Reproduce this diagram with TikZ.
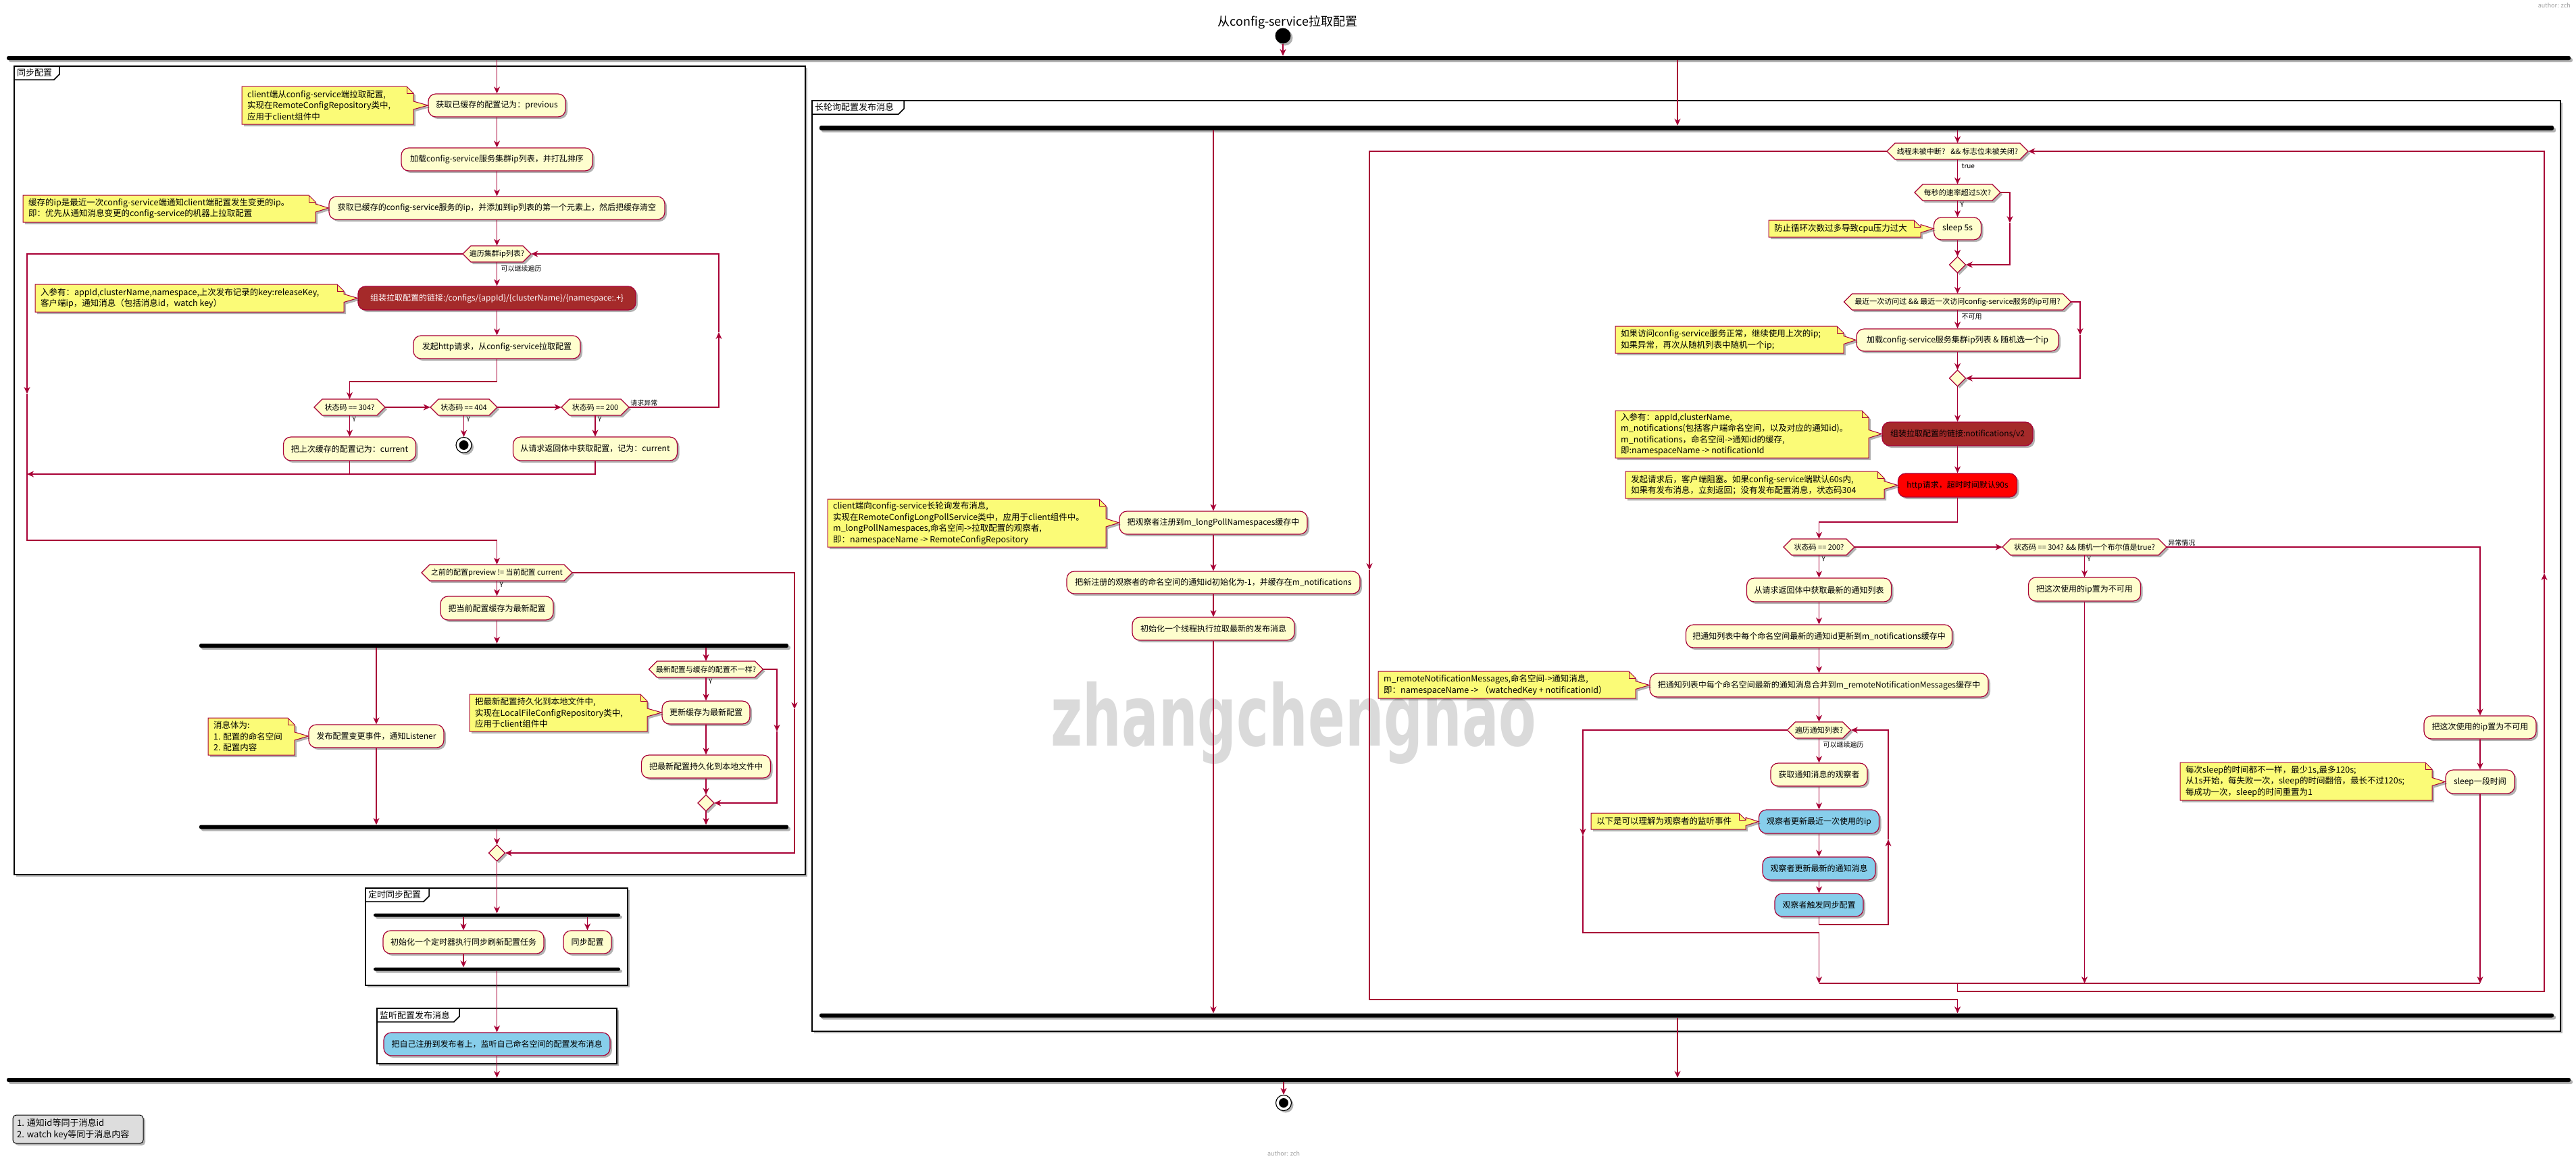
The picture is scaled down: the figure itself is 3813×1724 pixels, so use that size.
\documentclass[tikz,border=0pt]{standalone}
\usepackage{fontspec}
\usepackage{graphicx}
\setmainfont{Noto Sans CJK SC}
\newfontfamily\wmfont{DejaVu Sans}[BoldFont={DejaVu Sans Bold}]
\usetikzlibrary{arrows.meta,shadows,calc}
\definecolor{pborder}{HTML}{A80036}
\definecolor{pbg}{HTML}{FEFECE}
\definecolor{pnote}{HTML}{FBFB77}
\definecolor{pbrown}{HTML}{A52A2A}
\definecolor{pblue}{HTML}{87CEEB}
\definecolor{pred}{HTML}{FF0000}
\definecolor{plegend}{HTML}{DDDDDD}
\definecolor{wmgray}{HTML}{DADADA}
\definecolor{authgray}{HTML}{A0A0A0}
\tikzset{
 shd/.style={drop shadow={shadow xshift=3pt,shadow yshift=-3pt,opacity=0.3,fill=black}},
 act/.style={rectangle, rounded corners=11pt, draw=pborder, fill=pbg, line width=1.2pt, inner sep=0pt, font=\fontsize{12}{14}\selectfont, shd},
 hexs/.style={draw=pborder, fill=pbg, line width=1.2pt, shd},
 hext/.style={inner sep=0pt, font=\fontsize{11}{13}\selectfont, minimum height=24pt},
 notes/.style={draw=pborder, fill=pnote, line width=1pt, shd},
 notet/.style={inner sep=0pt, align=left, anchor=west, font=\fontsize{12.5}{16.5}\selectfont},
 arr/.style={draw=pborder, line width=1.2pt, -{Stealth[length=10pt,width=9pt,inset=3pt]}},
 ln/.style={draw=pborder, line width=1.2pt},
 bar/.style={rectangle, rounded corners=2.5pt, fill=black, inner sep=0pt, minimum height=6pt, shd},
 part/.style={draw=black, line width=1.8pt, fill=white, shd},
 tabt/.style={inner sep=0pt, font=\fontsize{13}{15}\selectfont},
 lbl/.style={font=\fontsize{10}{12}\selectfont, inner sep=1pt},
}
% name, cx, cy, half width, text
\newcommand\umlhex[5]{%
 \path[hexs] (#2-#4,#3) -- (#2-#4+12,#3-12) -- (#2+#4-12,#3-12) -- (#2+#4,#3) -- (#2+#4-12,#3+12) -- (#2-#4+12,#3+12) -- cycle;
 \node[hext, minimum width=2*#4] (#1) at (#2,#3) {#5};}
% name, cx, cy
\newcommand\umlmerge[3]{%
 \path[hexs] (#2-12,#3) -- (#2,#3-12) -- (#2+12,#3) -- (#2,#3+12) -- cycle;
 \node[inner sep=0pt, minimum size=24pt] (#1) at (#2,#3) {};}
% name, x1, y1, x2, y2, target, target y, text
\newcommand\umlnote[8]{%
 \path[notes] (#2,#3) -- (#4-10,#3) -- (#4,#3+10) -- (#4,#7-6) -- (#6.west) -- (#4,#7+6) -- (#4,#5) -- (#2,#5) -- cycle;
 \draw[pborder, line width=1pt] (#4-10,#3) -- (#4-10,#3+10) -- (#4,#3+10);
 \node[notet] (#1) at (#2+8,{(#3+#5)/2}) {#8};}
% name, x1, y1, x2, y2, tab width, label
\newcommand\umlpart[7]{%
 \path[part] (#2,#3) rectangle (#4,#5);
 \path[draw=black, line width=1.5pt, fill=white] (#2,#3) -- (#2+#6,#3) -- (#2+#6,#3+12) -- (#2+#6-8,#3+20) -- (#2,#3+20) -- cycle;
 \node[tabt, anchor=west] (#1) at (#2+4,#3+10) {#7};}

\begin{document}
\begin{tikzpicture}[x=1pt,y=-1pt]
\useasboundingbox (0,0) rectangle (3813,1724);
\fill[white] (0,0) rectangle (3813,1724);

% ---------- partitions ----------
\umlpart{pt1}{21}{98}{1192}{1295}{67}{同步配置}
\umlpart{pt2}{1202}{149}{3790}{1527}{136}{长轮询配置发布消息}
\umlpart{pt3}{541}{1315}{929}{1459}{94}{定时同步配置}
\umlpart{pt4}{558}{1493}{913}{1575}{122}{监听配置发布消息}

% ---------- watermark ----------
\node[text=wmgray, inner sep=0pt] (wm) at (1915,1070) {\resizebox*{718pt}{122pt}{\wmfont\bfseries zhangchenghao}};

% ---------- title / author ----------
\node[font=\fontsize{18}{20}\selectfont, inner sep=0pt] (title) at (1906,33) {从config-service拉取配置};
\node[font=\fontsize{9}{10}\selectfont, text=authgray, anchor=north east, inner sep=0pt] (auth1) at (3805,4) {author: zch};
\node[font=\fontsize{9}{10}\selectfont, text=authgray, inner sep=0pt] (auth2) at (1900,1708) {author: zch};

% ---------- start / bars ----------
\node[circle, fill=black, minimum size=23pt, inner sep=0pt, shd] (start) at (1899,53) {};
\node[bar, minimum width=3795pt] (topbar) at (1907.5,86) {};
\node[bar, minimum width=3795pt] (botbar) at (1907.5,1599) {};
\node[bar, minimum width=872pt] (syncfork) at (731,956) {};
\node[bar, minimum width=872pt] (syncjoin) at (731,1224.5) {};
\node[bar, minimum width=365pt, minimum height=5pt] (tfork) at (735.5,1355) {};
\node[bar, minimum width=365pt, minimum height=5pt] (tjoin) at (735.5,1435) {};
\node[bar, minimum width=2567pt, minimum height=7pt] (lpfork) at (2496.5,189.5) {};
\node[bar, minimum width=2567pt] (lpjoin) at (2496.5,1503.5) {};
\node[circle, draw=black, line width=1.2pt, fill=white, minimum size=23pt, inner sep=0pt, shd] (end1) at (1900,1633) {};
\node[circle, fill=black, minimum size=14pt, inner sep=0pt] (end1i) at (end1) {};

% ---------- sync config ----------
\node[act, minimum width=203pt, minimum height=34pt] (a1) at (735.5,156) {获取已缓存的配置记为：previous};
\node[act, minimum width=283pt, minimum height=34pt] (a2) at (735.5,236) {加载config-service服务集群ip列表，并打乱排序};
\node[act, minimum width=497pt, minimum height=34pt] (a3) at (735.5,308) {获取已缓存的config-service服务的ip，并添加到ip列表的第一个元素上，然后把缓存清空};
\umlhex{h1}{735.5}{376}{50.5}{遍历集群ip列表?}
\node[act, fill=pbrown, text=white, minimum width=411pt, minimum height=35pt] (a4) at (735.5,441.5) {组装拉取配置的链接:/configs/\{appId\}/\{clusterName\}/\{namespace:.+\}};
\node[act, minimum width=247pt, minimum height=34pt] (a5) at (735.5,514) {发起http请求，从config-service拉取配置};
\umlhex{h2}{517.5}{603}{52.5}{状态码 == 304?}
\umlhex{h3}{686.5}{603}{49.5}{状态码 == 404}
\umlhex{h4}{881}{603}{50}{状态码 == 200}
\node[act, minimum width=196pt, minimum height=35pt] (a6) at (517.5,664.5) {把上次缓存的配置记为：current};
\node[circle, draw=black, line width=1.2pt, fill=white, minimum size=23pt, inner sep=0pt, shd] (end2) at (686.5,659) {};
\node[circle, fill=black, minimum size=14pt, inner sep=0pt] (end2i) at (end2) {};
\node[act, minimum width=243pt, minimum height=35pt] (a7) at (881,664.5) {从请求返回体中获取配置，记为：current};
\umlhex{h5}{735.5}{848}{111.5}{之前的配置preview != 当前配置 current}
\node[act, minimum width=167pt, minimum height=35pt] (a8) at (735.5,900.5) {把当前配置缓存为最新配置};
\node[act, minimum width=200pt, minimum height=34pt] (a9) at (557,1090) {发布配置变更事件，通知Listener};
\umlhex{h6}{1045}{991}{84.5}{最新配置与缓存的配置不一样?}
\node[act, minimum width=130pt, minimum height=34pt] (a10) at (1045,1055) {更新缓存为最新配置};
\node[act, minimum width=191pt, minimum height=34pt] (a11) at (1045,1135) {把最新配置持久化到本地文件中};
\umlmerge{m2}{1045}{1189}
\umlmerge{m1}{735.5}{1263}
\node[act, minimum width=238pt, minimum height=34pt] (a12) at (686,1395) {初始化一个定时器执行同步刷新配置任务};
\node[act, minimum width=71pt, minimum height=34pt] (a13) at (869.5,1395) {同步配置};
\node[act, fill=pblue, minimum width=335pt, minimum height=34pt] (a14) at (735.5,1546) {把自己注册到发布者上，监听自己命名空间的配置发布消息};

% ---------- long poll ----------
\node[act, minimum width=278pt, minimum height=34pt] (b1) at (1796,774) {把观察者注册到m\_longPollNamespaces缓存中};
\node[act, minimum width=434pt, minimum height=33pt] (b2) at (1796,862.5) {把新注册的观察者的命名空间的通知id初始化为-1，并缓存在m\_notifications};
\node[act, minimum width=240pt, minimum height=34pt] (b3) at (1796,931) {初始化一个线程执行拉取最新的发布消息};

\umlhex{k1}{2897.5}{224}{104.5}{线程未被中断？ \&\& 标志位未被关闭?}
\umlhex{k2}{2897.5}{285}{63.5}{每秒的速率超过5次?}
\node[act, minimum width=70pt, minimum height=33pt] (c1) at (2897.5,338.5) {sleep 5s};
\umlmerge{m3}{2897.5}{392}
\umlhex{k3}{2897.5}{447}{168}{最近一次访问过 \&\& 最近一次访问config-service服务的ip可用?}
\node[act, minimum width=299pt, minimum height=33pt] (c2) at (2897.5,503.5) {加载config-service服务集群ip列表 \& 随机选一个ip};
\umlmerge{m4}{2897.5}{560}
\node[act, fill=pbrown, minimum width=223pt, minimum height=35pt] (c3) at (2897.5,642.5) {组装拉取配置的链接:notifications/v2};
\node[act, fill=pred, minimum width=176pt, minimum height=35pt] (c4) at (2897.5,718.5) {http请求，超时时间默认90s};
\umlhex{k4}{2692.5}{810}{52.5}{状态码 == 200?}
\umlhex{k5}{3085.5}{810}{121.5}{状态码 == 304? \&\& 随机一个布尔值是true?}
\node[act, minimum width=166pt, minimum height=35pt] (d1) at (3085.5,872.5) {把这次使用的ip置为不可用};
\node[act, minimum width=166pt, minimum height=34pt] (d2) at (3671,1077) {把这次使用的ip置为不可用};
\node[act, minimum width=102pt, minimum height=35pt] (d3) at (3671,1157.5) {sleep一段时间};
\node[act, minimum width=214pt, minimum height=35pt] (c5) at (2692.5,873.5) {从请求返回体中获取最新的通知列表};
\node[act, minimum width=394pt, minimum height=34pt] (c6) at (2692.5,942) {把通知列表中每个命名空间最新的通知id更新到m\_notifications缓存中};
\node[act, minimum width=501pt, minimum height=35pt] (c7) at (2692.5,1014.5) {把通知列表中每个命名空间最新的通知消息合并到m\_remoteNotificationMessages缓存中};
\umlhex{k6}{2692.5}{1081}{47}{遍历通知列表?}
\node[act, minimum width=143pt, minimum height=34pt] (c8) at (2692.5,1147) {获取通知消息的观察者};
\node[act, fill=pblue, minimum width=178pt, minimum height=35pt] (c9) at (2692.5,1216.5) {观察者更新最近一次使用的ip};
\node[act, fill=pblue, minimum width=167pt, minimum height=34pt] (c10) at (2692.5,1286) {观察者更新最新的通知消息};
\node[act, fill=pblue, minimum width=131pt, minimum height=34pt] (c11) at (2692.5,1340) {观察者触发同步配置};

% ---------- notes ----------
\umlnote{n1}{358}{128}{612}{184}{a1}{156}{client端从config-service端拉取配置,\\实现在RemoteConfigRepository类中,\\应用于client组件中}
\umlnote{n2}{34}{289}{467}{329}{a3}{308}{缓存的ip是最近一次config-service端通知client端配置发生变更的ip。\\即：优先从通知消息变更的config-service的机器上拉取配置}
\umlnote{n3}{52}{421}{509}{462}{a4}{441.5}{入参有：appId,clusterName,namespace,上次发布记录的key:releaseKey,\\客户端ip，通知消息（包括消息id，watch key）}
\umlnote{n4}{308}{1063}{436}{1118}{a9}{1090}{消息体为:\\1. 配置的命名空间\\2. 配置内容}
\umlnote{n5}{695}{1028}{958}{1083}{a10}{1055}{把最新配置持久化到本地文件中,\\实现在LocalFileConfigRepository类中,\\应用于client组件中}
\umlnote{n6}{1225}{739}{1637}{810}{b1}{774}{client端向config-service长轮询发布消息,\\实现在RemoteConfigLongPollService类中，应用于client组件中。\\m\_longPollNamespaces,命名空间->拉取配置的观察者,\\即：namespaceName -> RemoteConfigRepository}
\umlnote{n7}{2618}{326}{2843}{351}{c1}{338.5}{防止循环次数过多导致cpu压力过大}
\umlnote{n8}{2391}{483}{2729}{523}{c2}{503.5}{如果访问config-service服务正常，继续使用上次的ip;\\如果异常，再次从随机列表中随机一个ip;}
\umlnote{n9}{2391}{608}{2766}{678}{c3}{642.5}{入参有：appId,clusterName,\\m\_notifications(包括客户端命名空间，以及对应的通知id)。\\m\_notifications，命名空间->通知id的缓存,\\即:namespaceName -> notificationId}
\umlnote{n10}{2406}{698}{2789}{738}{c4}{718.5}{发起请求后，客户端阻塞。如果config-service端默认60s内,\\如果有发布消息，立刻返回；没有发布配置消息，状态码304}
\umlnote{n11}{2040}{994}{2421}{1034}{c7}{1014.5}{m\_remoteNotificationMessages,命名空间->通知消息,\\即：namespaceName -> （watchedKey + notificationId）}
\umlnote{n12}{2355}{1204}{2584}{1228}{c9}{1216.5}{以下是可以理解为观察者的监听事件}
\umlnote{n13}{3227}{1129}{3600}{1185}{d3}{1157.5}{每次sleep的时间都不一样，最少1s,最多120s;\\从1s开始，每失败一次，sleep的时间翻倍，最长不过120s;\\每成功一次，sleep的时间重置为1}

% ---------- legend ----------
\node[draw=black, fill=plegend, rounded corners=5pt, line width=1pt, minimum width=193pt, minimum height=42pt, inner sep=0pt, shd] (legend) at (115.5,1672) {};
\node[align=left, anchor=west, inner sep=0pt, font=\fontsize{13}{17}\selectfont] (legendt) at (25,1672) {1. 通知id等同于消息id\\2. watch key等同于消息内容};

% ---------- labels ----------
\node[lbl, anchor=west] (l1) at ([xshift=5pt,yshift=-10pt]h1.south) {可以继续遍历};
\node[lbl, anchor=south west] (l2) at ([xshift=1pt]h4.east) {请求异常};
\node[lbl, anchor=north west] (y1) at ([xshift=3pt,yshift=-1pt]h2.south) {Y};
\node[lbl, anchor=north west] (y2) at ([xshift=3pt,yshift=-1pt]h3.south) {Y};
\node[lbl, anchor=north west] (y3) at ([xshift=3pt,yshift=-1pt]h4.south) {Y};
\node[lbl, anchor=north west] (y4) at ([xshift=3pt,yshift=-1pt]h5.south) {Y};
\node[lbl, anchor=north west] (y5) at ([xshift=3pt,yshift=-1pt]h6.south) {Y};
\node[lbl, anchor=west] (l3) at ([xshift=5pt,yshift=-10pt]k1.south) {true};
\node[lbl, anchor=north west] (y6) at ([xshift=3pt,yshift=-1pt]k2.south) {Y};
\node[lbl, anchor=west] (l4) at ([xshift=5pt,yshift=-10pt]k3.south) {不可用};
\node[lbl, anchor=north west] (y7) at ([xshift=3pt,yshift=-1pt]k4.south) {Y};
\node[lbl, anchor=north west] (y8) at ([xshift=3pt,yshift=-1pt]k5.south) {Y};
\node[lbl, anchor=south west] (l5) at ([xshift=1pt]k5.east) {异常情况};
\node[lbl, anchor=west] (l6) at ([xshift=5pt,yshift=-10pt]k6.south) {可以继续遍历};

% ---------- connectors: top ----------
\draw[arr] (start.south) -- (start |- topbar.north);
\draw[arr] (a1 |- topbar.south) -- (a1.north);
\draw[arr] (a1.south) -- (a2.north);
\draw[arr] (a2.south) -- (a3.north);
\draw[arr] (a3.south) -- (h1.north);
\draw[arr] (h1.south) -- (a4.north);
\draw[arr] (a4.south) -- (a5.north);
\coordinate (s1) at (735.5,565);
\draw[arr] (a5.south) -- (s1) -| (h2.north);
\draw[arr] (h2.east) -- (h3.west);
\draw[arr] (h3.east) -- (h4.west);
\draw[arr] (h2.south) -- (a6.north);
\draw[arr] (h3.south) -- (end2.north);
\draw[arr] (h4.south) -- (a7.north);
\coordinate (lx1) at (40,583);
\coordinate (lx2) at (40,800);
\draw[arr] (h1.west) -| (lx1);
\draw[arr] (lx1) -- (lx2) -| (h5.north);
\coordinate (mg1) at (40,702);
\draw[ln] (a6.south) -- (a6.south |- mg1);
\draw[arr] (a7.south) |- (mg1);
\coordinate (rb1) at (1064,492);
\draw[arr] (h4.east) -| (rb1);
\draw[arr] (rb1) |- (h1.east);
\draw[arr] (h5.south) -- (a8.north);
\draw[arr] (a8.south) -- (a8 |- syncfork.north);
\draw[arr] (a9 |- syncfork.south) -- (a9.north);
\draw[arr] (h6 |- syncfork.south) -- (h6.north);
\draw[arr] (a9.south) -- (a9 |- syncjoin.north);
\draw[arr] (h6.south) -- (a10.north);
\draw[arr] (a10.south) -- (a11.north);
\draw[arr] (a11.south) -- (m2.north);
\coordinate (rb2) at (1150,1083);
\draw[arr] (h6.east) -| (rb2);
\draw[arr] (rb2) |- (m2.east);
\draw[arr] (m2.south) -- (m2 |- syncjoin.north);
\draw[arr] (m1 |- syncjoin.south) -- (m1.north);
\coordinate (rb3) at (1176,1050);
\draw[arr] (h5.east) -| (rb3);
\draw[arr] (rb3) |- (m1.east);
\draw[arr] (m1.south) -- (m1 |- tfork.north);
\draw[arr] (a12 |- tfork.south) -- (a12.north);
\draw[arr] (a13 |- tfork.south) -- (a13.north);
\draw[arr] (a12.south) -- (a12 |- tjoin.north);
\draw[arr] (a14 |- tjoin.south) -- (a14.north);
\draw[arr] (a14.south) -- (a14 |- botbar.north);
\draw[arr] (end1 |- botbar.south) -- (end1.north);

% ---------- connectors: long poll ----------
\coordinate (lpx) at (2483,0);
\draw[arr] (lpx |- topbar.south) -- (lpx |- lpfork.north);
\draw[arr] (lpx |- lpjoin.south) -- (lpx |- botbar.north);
\draw[arr] (b1 |- lpfork.south) -- (b1.north);
\draw[arr] (b1.south) -- (b2.north);
\draw[arr] (b2.south) -- (b3.north);
\draw[arr] (b3.south) -- (b3 |- lpjoin.north);
\draw[arr] (k1 |- lpfork.south) -- (k1.north);
\draw[arr] (k1.south) -- (k2.north);
\draw[arr] (k2.south) -- (c1.north);
\draw[arr] (c1.south) -- (m3.north);
\coordinate (rb4) at (2975,330);
\draw[arr] (k2.east) -| (rb4);
\draw[arr] (rb4) |- (m3.east);
\draw[arr] (m3.south) -- (k3.north);
\draw[arr] (k3.south) -- (c2.north);
\draw[arr] (c2.south) -- (m4.north);
\coordinate (rb5) at (3079,496);
\draw[arr] (k3.east) -| (rb5);
\draw[arr] (rb5) |- (m4.east);
\draw[arr] (m4.south) -- (c3.north);
\draw[arr] (c3.south) -- (c4.north);
\coordinate (s2) at (2897.5,773);
\draw[arr] (c4.south) -- (s2) -| (k4.north);
\draw[arr] (k4.east) -- (k5.west);
\draw[arr] (k5.south) -- (d1.north);
\draw[arr] (k5.east) -| (d2.north);
\draw[arr] (d2.south) -- (d3.north);
\draw[arr] (k4.south) -- (c5.north);
\draw[arr] (c5.south) -- (c6.north);
\draw[arr] (c6.south) -- (c7.north);
\draw[arr] (c7.south) -- (k6.north);
\draw[arr] (k6.south) -- (c8.north);
\draw[arr] (c8.south) -- (c9.north);
\draw[arr] (c9.south) -- (c10.north);
\draw[arr] (c10.south) -- (c11.north);
\coordinate (ib1) at (2795,1369);
\coordinate (rb6) at (2795,1243);
\draw[arr] (c11.south) |- (ib1) -- (rb6);
\draw[arr] (rb6) |- (k6.east);
\coordinate (lx3) at (2343,1237);
\coordinate (lx4) at (2343,1381);
\coordinate (mg2) at (2692.5,1456);
\coordinate (mg3) at (3671,1456);
\draw[arr] (k6.west) -| (lx3);
\draw[arr] (lx3) -- (lx4) -| (mg2);
\draw[arr] (d1.south) -- (d1.south |- mg2);
\draw[arr] (d3.south) -- (d3.south |- mg2);
\draw[ln] (mg2) -- (mg3);
\coordinate (bl0) at (2897.5,1456);
\coordinate (bl1) at (2897.5,1468);
\coordinate (bl2) at (3766,849);
\draw[arr] (bl0) -- (bl1) -| (bl2);
\draw[arr] (bl2) |- (k1.east);
\coordinate (lx5) at (2027,844);
\coordinate (lx6) at (2027,1480);
\draw[arr] (k1.west) -| (lx5);
\draw[arr] (lx5) -- (lx6) -| (k1 |- lpjoin.north);
\end{tikzpicture}
\end{document}
